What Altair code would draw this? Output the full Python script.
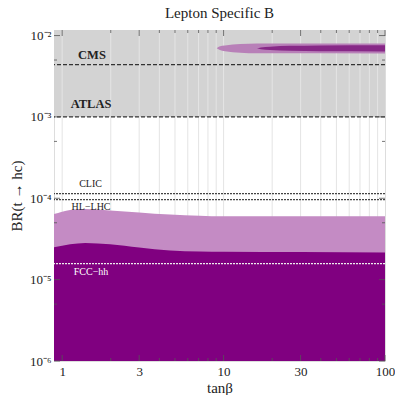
import altair as alt
import pandas as pd

# ---------------- data ----------------
X_MIN, X_MAX = 0.89, 100
Y_MIN, Y_MAX = 1e-6, 0.0117

grid_x = [1, 2, 3, 4, 5, 6, 7, 8, 9, 10, 20, 30, 40, 50, 60, 70, 80, 90]
major_x = [1, 3, 10, 30, 100]
major_y = [1e-6, 1e-5, 1e-4, 1e-3, 1e-2]
minor_y = [5e-6, 5e-5, 5e-4, 5e-3]
sup_digits = ["\u2070", "\u00b9", "\u00b2", "\u00b3", "\u2074", "\u2075", "\u2076"]

light_x = [0.89, 1.12, 1.39, 1.98, 3, 4.66, 7.1, 10, 30, 100]
light_y = [6.4e-5, 7.2e-5, 7.4e-5, 7.1e-5, 6.7e-5, 6.3e-5, 6.1e-5, 6.0e-5, 6.0e-5, 6.0e-5]

dark_x = [0.89, 1.12, 1.39, 1.98, 3, 4.66, 7.1, 10, 30, 100]
dark_y = [2.5e-5, 2.73e-5, 2.83e-5, 2.73e-5, 2.48e-5, 2.28e-5, 2.22e-5, 2.2e-5, 2.18e-5, 2.15e-5]

ell_light_x = [9.07, 9.4, 10.2, 12.7, 16.1, 100]
ell_light_hi = [7.0e-3, 7.35e-3, 7.57e-3, 7.86e-3, 7.97e-3, 7.99e-3]
ell_light_lo = [7.0e-3, 6.70e-3, 6.40e-3, 6.16e-3, 6.06e-3, 6.03e-3]

ell_dark_x = [16.1, 17.0, 19.4, 25.8, 39.5, 100]
ell_dark_hi = [6.96e-3, 7.15e-3, 7.30e-3, 7.47e-3, 7.57e-3, 7.62e-3]
ell_dark_lo = [6.96e-3, 6.78e-3, 6.63e-3, 6.49e-3, 6.40e-3, 6.37e-3]

limit_names = ["CMS", "ATLAS", "CLIC", "HL-LHC", "FCC-hh"]
limit_vals = [4.4e-3, 1.0e-3, 1.14e-4, 9.6e-5, 1.57e-5]

label_text = ["CMS", "ATLAS", "CLIC", "HL\u2212LHC", "FCC\u2212hh"]
label_x = [1.53, 1.51, 1.50, 1.51, 1.51]
label_y = [5.8e-3, 1.45e-3, 1.51e-4, 7.8e-5, 1.24e-5]

excluded_lo = 1.0e-3

# ---------------- chart ----------------
SERIF = "Liberation Serif"
xs = alt.Scale(type="log", domain=[X_MIN, X_MAX], nice=False)
ys = alt.Scale(type="log", domain=[Y_MIN, Y_MAX], nice=False)

sup_arr = "[" + ",".join("'%s'" % s for s in sup_digits) + "]"

XAX = alt.Axis(
    values=major_x, labelExpr="datum.value", title="tan\u03b2", grid=False, ticks=False, domain=False,
    labelFont=SERIF, labelFontSize=13, labelColor="#222", labelPadding=4, labelFlush=False,
    titleFont=SERIF, titleFontSize=15, titleFontWeight="normal", titleColor="#222", titlePadding=2)
YAX = alt.Axis(
    values=major_y,
    labelExpr="'10\u207b' + " + sup_arr + "[round(-log(datum.value)/LN10)]",
    title="BR(t \u2192 hc)", grid=False, ticks=False, domain=False,
    labelFont=SERIF, labelFontSize=13, labelColor="#222", labelPadding=3, labelFlush=False,
    titleFont=SERIF, titleFontSize=15, titleFontWeight="normal", titleColor="#222", titlePadding=5)


def X(f):
    return alt.X(f, scale=xs, axis=XAX)


def Y(f):
    return alt.Y(f, scale=ys, axis=YAX)


W = H = 331

gray = alt.Chart(pd.DataFrame({"x": [X_MIN], "x2": [X_MAX], "y": [excluded_lo], "y2": [Y_MAX]})).mark_rect(
    color="#d3d3d3"
).encode(x=X("x:Q"), x2="x2:Q", y=Y("y:Q"), y2="y2:Q")

grid = alt.Chart(pd.DataFrame({"x": grid_x})).mark_rule(color="#e4e4e4", strokeWidth=1).encode(x=X("x:Q"))

lim_df = pd.DataFrame({"name": limit_names, "v": limit_vals})
dashed = alt.Chart(lim_df[lim_df.name.isin(["CMS", "ATLAS"])]).mark_rule(
    color="#333", strokeDash=[4, 2], strokeWidth=1.2
).encode(y=Y("v:Q"))
dotted = alt.Chart(lim_df[lim_df.name.isin(["CLIC", "HL-LHC"])]).mark_rule(
    color="#444", strokeDash=[2, 1], strokeWidth=1.2
).encode(y=Y("v:Q"))

light = alt.Chart(pd.DataFrame({"x": light_x, "y": light_y})).mark_area(
    color="#c48bc4", interpolate="monotone", opacity=1
).encode(x=X("x:Q"), y=Y("y:Q"), y2=alt.datum(Y_MIN))
dark = alt.Chart(pd.DataFrame({"x": dark_x, "y": dark_y})).mark_area(
    color="#800080", interpolate="monotone", opacity=1
).encode(x=X("x:Q"), y=Y("y:Q"), y2=alt.datum(Y_MIN))
fcc = alt.Chart(lim_df[lim_df.name == "FCC-hh"]).mark_rule(
    color="#eeeeee", strokeDash=[2, 1], strokeWidth=1.2
).encode(y=Y("v:Q"))

ell_l = alt.Chart(pd.DataFrame({"x": ell_light_x, "hi": ell_light_hi, "lo": ell_light_lo})).mark_area(
    color="#b880b8", interpolate="monotone"
).encode(x=X("x:Q"), y=Y("hi:Q"), y2="lo:Q")
ell_d = alt.Chart(pd.DataFrame({"x": ell_dark_x, "hi": ell_dark_hi, "lo": ell_dark_lo})).mark_area(
    color="#872887", interpolate="monotone"
).encode(x=X("x:Q"), y=Y("hi:Q"), y2="lo:Q")

lab_df = pd.DataFrame({"t": label_text, "x": label_x, "y": label_y})
bold_lab = alt.Chart(lab_df.iloc[:2]).mark_text(
    font=SERIF, fontSize=12.5, fontWeight="bold", color="#222"
).encode(x=X("x:Q"), y=Y("y:Q"), text="t:N")
small_lab = alt.Chart(lab_df.iloc[2:4]).mark_text(
    font=SERIF, fontSize=10, color="#222"
).encode(x=X("x:Q"), y=Y("y:Q"), text="t:N")
fcc_lab = alt.Chart(lab_df.iloc[4:]).mark_text(
    font=SERIF, fontSize=10, color="#ffffff"
).encode(x=X("x:Q"), y=Y("y:Q"), text="t:N")

# inward frame ticks
xt = pd.DataFrame({"x": grid_x + [100]})
xt["major"] = xt.x.isin(major_x)
yt = pd.DataFrame({"y": major_y + minor_y})
yt["major"] = yt.y.isin(major_y)


def xtick(major, y0, y1):
    return alt.Chart(xt[xt.major == major]).mark_rule(color="#555", strokeWidth=0.8).encode(
        x=X("x:Q"), y=alt.value(y0), y2=alt.value(y1))


def ytick(major, x0, x1):
    return alt.Chart(yt[yt.major == major]).mark_rule(color="#555", strokeWidth=0.8).encode(
        y=Y("y:Q"), x=alt.value(x0), x2=alt.value(x1))


ticks = [
    xtick(True, H, H - 6), xtick(False, H, H - 3), xtick(True, 0, 6), xtick(False, 0, 3),
    ytick(True, 0, 6), ytick(False, 0, 3), ytick(True, W, W - 6), ytick(False, W, W - 3),
]

chart = alt.layer(
    gray, grid, dashed, dotted, light, dark, fcc, ell_l, ell_d, bold_lab, small_lab, fcc_lab, *ticks
).properties(
    width=W, height=H,
    title=alt.TitleParams("Lepton Specific B", font=SERIF, fontSize=15, fontWeight="normal",
                          color="#222", offset=9, anchor="middle"),
    autosize=alt.AutoSizeParams(type="none"),
    padding={"left": 54, "top": 30, "right": 10, "bottom": 34},
).configure_view(stroke="#444", strokeWidth=1).configure_axis(
    labelFont=SERIF, titleFont=SERIF
).configure(background="white", font=SERIF)

chart.save("out.html", embed_options={"renderer": "svg", "actions": False})
